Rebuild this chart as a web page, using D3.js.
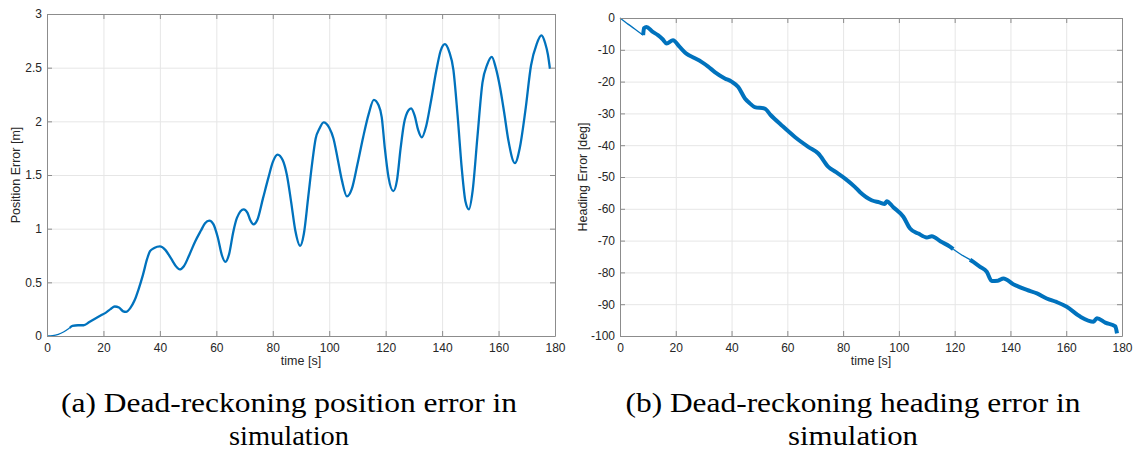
<!DOCTYPE html>
<html>
<head>
<meta charset="utf-8">
<script src="https://cdn.jsdelivr.net/npm/d3@7"></script>
<style>
  body { margin: 0; background: #fff; }
  svg { display: block; }
  .tick text { font-family: "Liberation Sans", Arial, sans-serif; font-size: 12px; fill: #262626; }
  .axis path, .axis line { stroke: #8c8c8c; }
  .grid line { stroke: #e6e6e6; }
  .grid path { display: none; }
  .label { font-family: "Liberation Sans", Arial, sans-serif; font-size: 12.5px; fill: #262626; }
  .caption { font-family: "Liberation Serif", "Times New Roman", serif; font-size: 28px; fill: #000; }
</style>
</head>
<body>
<div id="chart"></div>
<script>
// ---- data ----
let timeTicks = [0, 20, 40, 60, 80, 100, 120, 140, 160, 180];
let posTicks = [0, 0.5, 1, 1.5, 2, 2.5, 3];
let headTicks = [-100, -90, -80, -70, -60, -50, -40, -30, -20, -10, 0];

let posT = [0, 2, 4, 6, 8, 9, 11, 13, 15, 17, 19, 21, 22.5, 24, 25.5, 27, 28, 29.5, 31, 32.5,
  34, 35.5, 36.5, 38, 40, 42, 44, 46, 47, 48.5, 50.5, 52.5, 54.5, 56, 57.5, 59, 60.5, 62, 63.2,
  64.5, 66, 67.3, 69.7, 71, 72, 73.2, 74.5, 76.5, 78.5, 80, 81.7, 83.5, 85, 86.5, 88, 89.7, 91,
  92.5, 94, 95.2, 96.5, 98, 100, 101.5, 103, 104.5, 106.3, 108, 110, 112, 114, 115.8, 117.5,
  118.6, 119.7, 121, 122.7, 124, 125.3, 126.5, 128, 129, 130.3, 131.5, 132.8, 134.3, 136, 138,
  139.5, 141, 142.5, 144, 145.5, 147, 148.3, 149.5, 150.8, 152.5, 154.3, 156, 157.6, 159, 160.5,
  162, 163.5, 165.8, 167.5, 169.5, 171.5, 173.5, 175.2, 176.5, 177.5, 178.2];
let posV = [0, 0.003, 0.015, 0.04, 0.075, 0.095, 0.10, 0.10, 0.13, 0.16, 0.19, 0.22, 0.25, 0.275,
  0.265, 0.23, 0.225, 0.26, 0.33, 0.44, 0.57, 0.72, 0.79, 0.82, 0.835, 0.80, 0.72, 0.64, 0.62,
  0.65, 0.76, 0.88, 0.98, 1.05, 1.075, 1.04, 0.92, 0.75, 0.69, 0.76, 0.97, 1.10, 1.18, 1.15, 1.08,
  1.04, 1.08, 1.28, 1.48, 1.62, 1.69, 1.64, 1.50, 1.25, 0.98, 0.84, 0.95, 1.28, 1.62, 1.84, 1.93,
  1.99, 1.94, 1.84, 1.65, 1.45, 1.30, 1.37, 1.60, 1.85, 2.07, 2.20, 2.15, 2.04, 1.75, 1.48, 1.35,
  1.45, 1.75, 1.98, 2.10, 2.12, 2.05, 1.92, 1.85, 1.95, 2.18, 2.48, 2.66, 2.72, 2.65, 2.48, 2.05,
  1.55, 1.25, 1.18, 1.35, 1.85, 2.36, 2.53, 2.60, 2.50, 2.32, 2.08, 1.82, 1.61, 1.75, 2.10, 2.52,
  2.72, 2.80, 2.73, 2.62, 2.49];
let posThin = [[0, 8]];

let headT = [0, 3, 6, 8.3, 8.6, 9.5, 11.5, 13.6, 15.2, 16.7, 19, 21.4, 23.8, 26.5, 29.2, 31.5, 34,
  37.6, 40, 42.4, 44.8, 46.5, 48.3, 51.9, 54, 57.9, 62.7, 67.5, 71.1, 74.7, 77.5, 80.7, 84.2, 86,
  90.2, 93, 95, 95.6, 98, 101.6, 104, 107, 110, 111.8, 115, 118.3, 119.5, 122, 125.5, 126.7,
  129, 131.5, 133.3, 135.5, 137.5, 141, 145.9, 149.5, 153, 156.5, 160.2, 165, 169.8, 171, 174,
  177.6, 178.2];
let headV = [0, -2, -3.9, -5.4, -3.2, -2.8, -4.2, -5.4, -6.6, -8.0, -7.0, -9.1, -11.2, -12.5, -13.8,
  -15.2, -17, -19.0, -20.0, -21.7, -25.3, -26.8, -28.0, -28.5, -30.5, -33.7, -37.4, -40.5, -42.6,
  -46.8, -48.5, -50.5, -53.1, -54.7, -57.3, -58.0, -58.5, -57.6, -59.5, -62.5, -66.2, -67.8,
  -69, -68.6, -70.3, -71.9, -72.7, -74.2, -76.0, -76.7, -78.2, -79.8, -82.7, -82.6, -81.9, -83.7,
  -85.5, -86.6, -88.2, -89.3, -90.8, -93.9, -95.5, -94.4, -95.8, -97.0, -99.2];
let headThin = [[0, 8.3], [119.5, 125.5]];

// ---- layout ----
let width = 1138, height = 452;
let svg = d3.select('#chart').append('svg')
  .attr('width', width).attr('height', height);

function inThin(ranges, t) {
  return ranges.some(r => t >= r[0] && t <= r[1]);
}
function strictlyThin(ranges, t) {
  return ranges.some(r => t > r[0] && t < r[1]);
}

function drawPanel(opt) {
  let x = d3.scaleLinear().domain([0, 180]).range([opt.left, opt.right]);
  let y = d3.scaleLinear().domain(opt.yDomain).range([opt.bottom, opt.top]);
  let h = opt.bottom - opt.top, w = opt.right - opt.left;
  let fmt = d => String(d);

  // grid
  svg.append('g').attr('class', 'grid')
    .attr('transform', `translate(0, ${opt.bottom})`)
    .call(d3.axisBottom(x).tickValues(timeTicks).tickSize(-h).tickFormat(''));
  svg.append('g').attr('class', 'grid')
    .attr('transform', `translate(${opt.left}, 0)`)
    .call(d3.axisLeft(y).tickValues(opt.yTicks).tickSize(-w).tickFormat(''));

  // data
  let data = opt.t.map((t, i) => ({ t: t, v: opt.v[i] }));
  let thinLine = d3.line().x(d => x(d.t)).y(d => y(d.v))
    .defined(d => inThin(opt.thin, d.t)).curve(d3.curveMonotoneX);
  let thickLine = d3.line().x(d => x(d.t)).y(d => y(d.v))
    .defined(d => !strictlyThin(opt.thin, d.t)).curve(d3.curveMonotoneX);
  svg.append('path').attr('d', thinLine(data))
    .attr('fill', 'none').attr('stroke', '#0072BD').attr('stroke-width', 1.3);
  svg.append('path').attr('d', thickLine(data))
    .attr('fill', 'none').attr('stroke', '#0072BD').attr('stroke-width', opt.lineWidth)
    .attr('stroke-linejoin', 'round');

  // axes, ticks pointing inward on every side
  svg.append('g').attr('class', 'axis')
    .attr('transform', `translate(0, ${opt.bottom})`)
    .call(d3.axisBottom(x).tickValues(timeTicks).tickSizeInner(-5).tickSizeOuter(0)
      .tickPadding(7).tickFormat(fmt));
  svg.append('g').attr('class', 'axis')
    .attr('transform', `translate(0, ${opt.top})`)
    .call(d3.axisTop(x).tickValues(timeTicks).tickSizeInner(-5).tickSizeOuter(0).tickFormat(''));
  svg.append('g').attr('class', 'axis')
    .attr('transform', `translate(${opt.left}, 0)`)
    .call(d3.axisLeft(y).tickValues(opt.yTicks).tickSizeInner(-5).tickSizeOuter(0)
      .tickPadding(5).tickFormat(fmt));
  svg.append('g').attr('class', 'axis')
    .attr('transform', `translate(${opt.right}, 0)`)
    .call(d3.axisRight(y).tickValues(opt.yTicks).tickSizeInner(-5).tickSizeOuter(0).tickFormat(''));

  // labels
  svg.append('text').attr('class', 'label')
    .attr('x', (opt.left + opt.right) / 2).attr('y', opt.bottom + 29)
    .attr('text-anchor', 'middle').text('time [s]');
  svg.append('text').attr('class', 'label')
    .attr('transform', `translate(${opt.yLabelX}, ${(opt.top + opt.bottom) / 2}) rotate(-90)`)
    .attr('text-anchor', 'middle').text(opt.yLabel);

  // caption
  opt.caption.forEach((line, i) => {
    svg.append('text').attr('class', 'caption')
      .attr('x', opt.captionX).attr('y', 412 + i * 33)
      .attr('text-anchor', 'middle')
      .attr('textLength', line.len).attr('lengthAdjust', 'spacingAndGlyphs')
      .text(line.text);
  });
}

drawPanel({
  left: 47, right: 555, top: 14, bottom: 336,
  yDomain: [0, 3], yTicks: posTicks,
  t: posT, v: posV, thin: posThin, lineWidth: 2.3,
  yLabel: 'Position Error [m]', yLabelX: 20,
  captionX: 289,
  caption: [{ text: '(a) Dead-reckoning position error in', len: 456 },
            { text: 'simulation', len: 120 }]
});

drawPanel({
  left: 620, right: 1122, top: 18, bottom: 336,
  yDomain: [-100, 0], yTicks: headTicks,
  t: headT, v: headV, thin: headThin, lineWidth: 4,
  yLabel: 'Heading Error [deg]', yLabelX: 587,
  captionX: 853,
  caption: [{ text: '(b) Dead-reckoning heading error in', len: 455 },
            { text: 'simulation', len: 130 }]
});
</script>
</body>
</html>
